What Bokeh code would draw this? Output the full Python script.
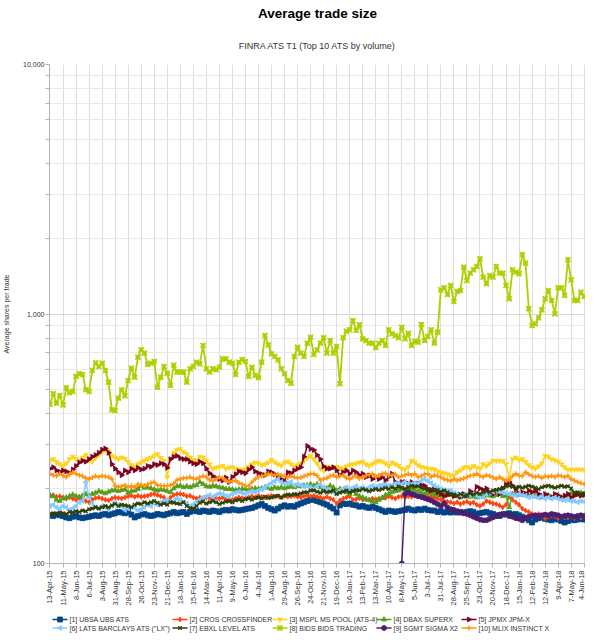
import math
from bokeh.plotting import figure
from bokeh.layouts import column
from bokeh.models import Range1d, FixedTicker, Title
from bokeh.core.properties import value
from bokeh.embed import file_html
from bokeh.resources import INLINE

# ---- data -------------------------------------------------------------
tick_labels = ["13-Apr-15", "11-May-15", "8-Jun-15", "6-Jul-15", "3-Aug-15", "31-Aug-15",
               "28-Sep-15", "26-Oct-15", "23-Nov-15", "21-Dec-15", "18-Jan-16", "15-Feb-16",
               "14-Mar-16", "11-Apr-16", "9-May-16", "6-Jun-16", "4-Jul-16", "1-Aug-16",
               "29-Aug-16", "26-Sep-16", "24-Oct-16", "21-Nov-16", "19-Dec-16", "16-Jan-17",
               "13-Feb-17", "13-Mar-17", "10-Apr-17", "8-May-17", "5-Jun-17", "3-Jul-17",
               "31-Jul-17", "28-Aug-17", "25-Sep-17", "23-Oct-17", "20-Nov-17", "18-Dec-17",
               "15-Jan-18", "12-Feb-18", "12-Mar-18", "9-Apr-18", "7-May-18", "4-Jun-18"]
tick_weeks = list(range(0, 165, 4))
weeks = list(range(165))

ubsa = [156,155,157,156,155,153,152,154,155,153, 152,153,154,155,156,155,157,158,156,158,
        159,161,160,159,161,157,153,155,157,158, 156,155,156,158,157,156,158,159,161,159,
        160,161,
        158,161,163,162,161,163,162,161,163,162, 161,163,164,163,165,164,163,164,165,166,
        167,169,171,173,170,167,165,163,166,169, 171,169,170,169,172,174,176,178,180,
        180,178,176,174,172,169,166,160,171,174, 173,174,172,171,169,170,168,167,169,167,
        165,163,161,163,162,161,162,163,164,166, 164,163,165,164,166,164,163,163,161,162,
        160,161,160,
        161,160,161,160,161,162,161,158,159,160, 161,159,158,156,155,157,158,159,157,158,
        156,154,152,149,146,150,152,153,151,150, 149,151,150,148,146,148,150,149,150,151,
        150]
cros = [187,188,185,186,184,182,184,182,180,183, 180,178,176,180,183,184,182,180,179,182,
        184,183,182,184,186,187,185,187,185,186, 187,189,190,188,186,184,179,184,188,190,
        190,189,
        186,187,184,182,184,182,184,183,182,184, 182,184,181,179,180,182,184,183,182,184,
        186,184,187,185,184,186,187,185,186,184, 187,185,186,187,185,184,186,187,186,
        187,185,184,182,185,182,180,174,179,182, 184,186,180,181,183,180,181,180,182,181,
        182,184,183,186,184,182,185,186,184,186, 185,187,186,184,182,185,186,184,182,180,
        178,177,176,
        174,176,173,175,177,174,176,172,170,173, 178,176,174,173,171,168,172,185,180,176,
        172,166,163,161,158,156,158,155,152,154, 156,155,152,154,156,153,154,152,155,153,
        155]
mspl = [258,262,255,250,246,252,262,268,262,258, 266,272,260,256,265,272,280,286,283,270,
        266,262,266,263,255,248,244,250,254,258, 262,266,270,274,265,258,222,262,278,285,
        288,280,
        275,266,260,258,268,266,258,250,240,242, 244,246,240,242,243,240,238,236,240,244,
        250,254,252,248,250,254,260,255,250,247, 254,256,250,245,248,252,258,265,270,
        262,252,240,236,244,243,242,244,242,240, 245,248,250,252,254,256,250,246,250,255,
        258,256,252,246,254,250,246,240,238,244, 258,254,248,244,242,240,240,238,234,232,
        230,228,225,
        226,232,236,242,244,240,246,242,240,250, 246,252,258,258,258,258,250,220,262,266,
        260,262,255,248,243,240,245,252,270,268, 262,259,256,250,243,238,238,238,238,238,
        237]
dbax = [188,186,180,178,182,184,186,189,186,185, 187,190,186,190,192,195,193,191,194,196,
        197,195,197,198,192,195,196,199,205,201, 202,200,198,196,198,197,195,193,200,204,
        205,202,
        204,202,205,206,212,208,204,203,205,204, 202,201,199,199,198,197,198,199,199,197,
        199,200,199,200,202,201,199,202,200,202, 200,202,204,202,205,204,205,206,208,
        205,208,202,199,200,205,202,196,199,196, 193,190,196,190,186,184,181,180,177,176,
        180,183,188,190,193,195,196,199,198,196, 199,196,195,193,190,192,193,190,188,187,
        190,190,188,
        187,186,184,186,187,185,186,184,187,186, 188,187,186,188,190,186,187,168,190,192,
        190,188,190,187,186,188,186,184,186,188, 184,186,188,184,186,188,192,190,188,192,
        190]
jpmx = [240,243,236,233,236,234,230,238,246,254, 258,256,262,268,272,278,286,289,278,250,
        240,232,226,236,232,240,236,242,238,240, 246,244,250,248,252,250,242,262,268,270,
        264,262,
        262,256,252,250,256,252,240,230,224,220, 218,215,221,212,222,228,234,232,230,238,
        243,234,230,228,226,234,232,228,222,218, 213,232,230,236,240,243,268,296,288,
        285,272,262,245,240,240,243,236,226,232, 236,229,236,232,226,229,222,225,218,222,
        218,222,215,222,229,212,209,212,212,209, 212,205,209,206,205,199,196,202,193,190,
        186,188,190,
        186,188,185,190,187,195,191,203,200,197, 200,193,190,196,190,200,208,212,205,199,
        190,193,190,196,193,196,190,187,190,187, 184,190,187,184,187,190,184,187,190,187,
        188]
lats = [170,172,168,166,170,168,164,166,170,176, 178,212,184,174,168,166,170,168,165,170,
        176,172,170,164,166,169,168,163,165,168, 172,170,174,172,176,178,180,176,178,182,
        180,176,
        174,170,172,176,180,184,186,188,185,188, 191,190,187,186,190,192,194,192,190,193,
        195,193,196,198,202,206,210,214,218,212, 209,210,212,206,208,206,203,205,202,
        199,204,208,202,198,196,193,191,196,200, 202,199,201,204,200,202,199,202,205,202,
        205,206,208,205,206,209,210,208,212,209, 208,210,209,215,218,214,210,205,202,199,
        197,196,196,
        192,190,188,186,190,188,190,187,186,184, 190,192,194,196,194,193,192,190,188,187,
        190,188,187,184,186,185,183,186,182,184, 182,184,182,180,179,180,178,178,176,178,
        177]
ebxl = [158,159,158,160,159,158,161,160,162,161, 163,162,165,166,168,166,168,170,168,171,
        173,170,172,171,170,168,172,174,173,176, 174,176,178,175,172,174,172,176,175,174,
        173,176,
        170,167,166,170,175,177,174,176,178,176, 173,175,177,178,176,179,180,178,181,182,
        180,183,184,182,185,183,184,186,187,184, 187,189,188,190,189,191,193,193,196,
        196,194,192,195,193,194,196,190,192,194, 196,193,195,197,196,199,197,195,197,199,
        197,199,201,199,202,200,203,201,199,202, 205,203,204,201,199,197,199,196,197,194,
        196,193,190,
        189,187,190,186,188,191,189,192,190,193, 195,193,196,197,199,201,204,205,203,201,
        203,201,203,205,203,201,199,202,204,205, 203,201,203,205,203,204,200,192,193,190,
        191]
bids = [434,479,439,471,432,506,483,489,563,576, 572,497,489,594,637,616,635,594,533,413,
        410,460,497,470,541,606,558,671,719,697, 628,635,645,509,558,616,579,517,624,585,
        585,585,533,603,616,641,631,748,603,585, 603,598,612,661,661,641,635,572,641,657,
        645,562,612,567,555,641,820,752,692,676, 655,603,576,541,528,676,736,697,676,764,
        807,
        688,718,764,803,697,783,697,741,525,803, 853,864,942,859,905,795,783,764,764,732,
        764,783,748,864,833,820,803,885,795,838, 748,778,771,908,783,813,864,764,846,1250,
        1274,1197,1301,1122,1231,1242,1541,1362,1458,1504, 1550,1665,1405,1321,1426,1405,1550,1458,1458,1301,
        1150,1504,1472,1449,1732,1599,1049,899,913,965, 1039,1150,1242,1133,1001,1274,1274,1186,1649,1371,
        1133,1133,1223,1175]
sgmt_start = 108
sgmt = [100,190,193,190,188,186,185,183,181,179,176,173,170,174,168,165,
        164,162,160,159,158,156,154,152,150,149, 149,151,153,155,157,158,157,155,154,152,
        151,149,152,154,155,156,155,156,157,156, 158,157,156,154,155,156,155,154,155,156,
        155]
mlix = [229,226,224,229,225,222,228,232,229,226, 224,220,218,221,224,222,225,223,222,218,
        205,202,204,206,202,205,202,208,206,205, 208,210,212,206,205,205,205,206,209,216,
        218,220,
        220,222,219,218,222,224,222,216,214,218, 222,220,215,212,214,215,210,208,205,204,
        212,218,222,224,226,229,228,226,228,226, 224,221,224,222,220,221,224,226,229,
        229,225,216,218,220,224,226,222,224,226, 220,218,222,224,219,222,225,227,229,222,
        226,229,230,225,226,228,222,224,226,229, 226,229,222,224,228,229,222,226,224,222,
        218,216,214,
        218,215,217,219,222,225,226,229,225,222, 226,224,221,218,222,218,215,216,224,229,
        225,224,232,228,224,222,224,220,224,222, 225,222,226,224,222,225,218,215,212,210,
        208]

series_names = ["[1] UBSA UBS ATS", "[2] CROS CROSSFINDER", "[3] MSPL MS POOL (ATS-4)",
                "[4] DBAX SUPERX", "[5] JPMX JPM-X", "[6] LATS BARCLAYS ATS (\"LX\")",
                "[7] EBXL LEVEL ATS", "[8] BIDS BIDS TRADING", "[9] SGMT SIGMA X2",
                "[10] MLIX INSTINCT X"]
y_major = [100, 1000, 10000]
y_minor = [200, 300, 400, 500, 600, 700, 800, 900,
           2000, 3000, 4000, 5000, 6000, 7000, 8000, 9000]

# ---- styles / layout constants -----------------------------------------
FONT = "Liberation Sans"
styles = [
    ("#004586", "square", 0.0),
    ("#ff420e", "diamond", 0.0),
    ("#ffd320", "inverted_triangle", 0.0),
    ("#579d1c", "triangle", 0.0),
    ("#7e0021", "triangle", -math.pi / 2),
    ("#83caff", "triangle", math.pi / 2),
    ("#314004", "x", 0.0),
    ("#aecf00", "square_pin", 0.0),
    ("#4b1f6f", "circle", 0.0),
    ("#ff950e", "cross", 0.0),
]
FRAME_L, FRAME_W = 47, 536
# legend strip: its frame mirrors the chart frame (page x 55..591)
LEG_X0, LEG_X1 = 8 + FRAME_L, 8 + FRAME_L + FRAME_W
LEG_COL_X = [58, 178, 278, 382, 467]   # legend column starts (page px)
LEG_ROW_Y = [11, 19.5]                 # legend row centres (px from strip top)
LEG_H = 25


def draw_marker(fig, xs, ys, marker, color, ang):
    if marker in ("x", "cross"):
        return fig.scatter(xs, ys, marker=marker, size=5, line_color=color, line_width=1.4)
    return fig.scatter(xs, ys, marker=marker, size=5, angle=ang,
                       fill_color=color, line_color=color, line_width=0.8)


p = figure(frame_width=FRAME_W, frame_height=499, y_axis_type="log",
           x_range=Range1d(-0.15, 164.4), y_range=Range1d(100, 10000),
           output_backend="svg", toolbar_location=None,
           title="Average trade size",
           min_border_left=FRAME_L, min_border_right=0, min_border_top=0, min_border_bottom=0)
p.title.align = "center"
p.title.text_font = FONT
p.title.text_font_size = "13.5px"
p.title.text_font_style = "bold"
p.title.text_color = "#000000"
p.title.standoff = 7
sub = Title(text="FINRA ATS T1 (Top 10 ATS by volume)", align="center", text_font=FONT,
            text_font_size="9px", text_font_style="normal", text_color="#333333",
            standoff=28)
p.add_layout(sub, "above")

p.outline_line_color = None
p.background_fill_color = "white"

# x axis
xt = FixedTicker(ticks=tick_weeks)
p.xaxis.ticker = xt
p.xgrid.ticker = xt
p.xaxis.major_label_overrides = {w: lab for w, lab in zip(tick_weeks, tick_labels)}
p.xaxis.major_label_orientation = math.pi / 2
p.xaxis.major_label_text_font = FONT
p.xaxis.major_label_text_font_size = "7.5px"
p.xaxis.major_label_text_color = "#333333"
p.xaxis.major_label_standoff = 3
p.xaxis.axis_line_color = "#b3b3b3"
p.xaxis.major_tick_line_color = "#b3b3b3"
p.xaxis.major_tick_out = 4
p.xaxis.major_tick_in = 0
p.xaxis.minor_tick_line_color = None
p.xgrid.grid_line_color = "#dddddd"

# y axis
yt = FixedTicker(ticks=y_major, minor_ticks=y_minor)
p.yaxis.ticker = yt
p.ygrid.ticker = yt
p.yaxis.major_label_overrides = {100: "100", 1000: "1,000", 10000: "10,000"}
p.yaxis.major_label_text_font = FONT
p.yaxis.major_label_text_font_size = "7px"
p.yaxis.major_label_text_color = "#333333"
p.yaxis.major_label_standoff = 1
p.yaxis.axis_line_color = "#b3b3b3"
p.yaxis.major_tick_line_color = "#b3b3b3"
p.yaxis.minor_tick_line_color = "#b3b3b3"
p.yaxis.major_tick_out = 4
p.yaxis.major_tick_in = 0
p.yaxis.minor_tick_out = 4
p.yaxis.minor_tick_in = 0
p.yaxis.axis_label = "Average shares per trade"
p.yaxis.axis_label_text_font = FONT
p.yaxis.axis_label_text_font_size = "7px"
p.yaxis.axis_label_text_font_style = "normal"
p.yaxis.axis_label_text_color = "#333333"
p.yaxis.axis_label_standoff = 10
p.ygrid.grid_line_color = "#d6d6d6"
p.ygrid.minor_grid_line_color = "#eaeaea"

all_series = [ubsa, cros, mspl, dbax, jpmx, lats, ebxl, bids, sgmt, mlix]
for name, vals, (color, marker, ang) in zip(series_names, all_series, styles):
    xs = weeks[sgmt_start:] if vals is sgmt else weeks[:len(vals)]
    lw = 1.8 if vals is bids else 1.5
    p.line(xs, vals, line_color=color, line_width=lw)
    draw_marker(p, xs, vals, marker, color, ang)

# ---- legend strip (key) below the chart ---------------------------------
lf = figure(frame_width=FRAME_W, frame_height=LEG_H,
            x_range=Range1d(LEG_X0, LEG_X1), y_range=Range1d(LEG_H, 0),
            output_backend="svg", toolbar_location=None,
            x_axis_location=None, y_axis_location=None,
            min_border_left=FRAME_L, min_border_right=0, min_border_top=0, min_border_bottom=0)
lf.outline_line_color = None
lf.grid.visible = False
for k, (name, (color, marker, ang)) in enumerate(zip(series_names, styles)):
    gx = LEG_COL_X[k % 5]
    gy = LEG_ROW_Y[k // 5]
    lf.segment(x0=[gx], y0=[gy], x1=[gx + 15], y1=[gy], line_color=color, line_width=1.5)
    draw_marker(lf, [gx + 7.5], [gy], marker, color, ang)
    lf.text(x=[gx + 17], y=[gy], text=[name], text_baseline="middle", text_align="left",
            text_font=value(FONT), text_font_size="7px", text_color="#333333")

layout = column(p, lf, spacing=0)
open("out.html", "w").write(file_html(layout, INLINE))
